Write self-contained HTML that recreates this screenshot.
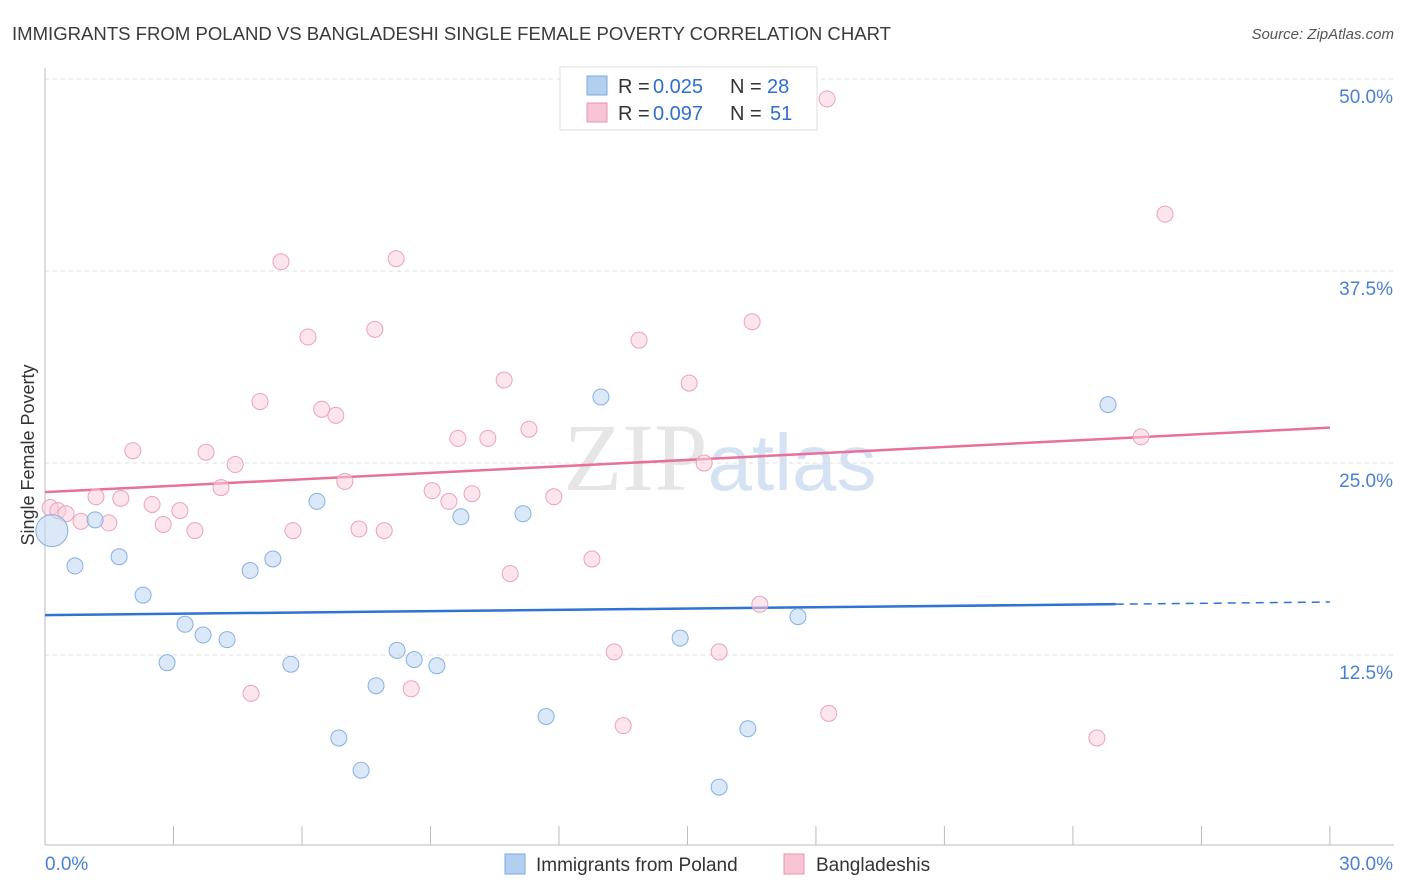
<!DOCTYPE html>
<html><head><meta charset="utf-8"><style>
body{margin:0;background:#fff;font-family:"Liberation Sans",sans-serif;}
svg{display:block}
</style></head><body>
<svg id="chart" width="1406" height="892">
<text x="12" y="40" font-size="18" fill="#3a3a3a" textLength="879" lengthAdjust="spacingAndGlyphs">IMMIGRANTS FROM POLAND VS BANGLADESHI SINGLE FEMALE POVERTY CORRELATION CHART</text>
<text x="1394" y="39" font-size="15" fill="#555" font-style="italic" text-anchor="end">Source: ZipAtlas.com</text>
<text x="720" y="490" font-size="96" fill="#e6e6e6" text-anchor="middle" font-family="Liberation Serif,serif">ZIP<tspan fill="#d5e2f4" font-family="Liberation Sans,sans-serif" font-size="80">atlas</tspan></text>
<text transform="translate(34,455) rotate(-90)" font-size="18" fill="#333" text-anchor="middle">Single Female Poverty</text>
<g id="grid"></g><g id="axes"></g><g id="lines"></g><g id="pts"></g>
<g>
<rect x="560" y="67" width="257" height="63" fill="#fff" stroke="#ddd"/>
<rect x="587" y="76" width="20" height="19" fill="#b3cff0" stroke="#7aaae0"/>
<rect x="587" y="103" width="20" height="19" fill="#f7c4d4" stroke="#e995b0"/>
<text x="618" y="93" font-size="20" fill="#333">R = <tspan x="653" fill="#2f6fd0">0.025</tspan><tspan x="730">N = </tspan><tspan x="767" fill="#2f6fd0">28</tspan></text>
<text x="618" y="120" font-size="20" fill="#333">R = <tspan x="653" fill="#2f6fd0">0.097</tspan><tspan x="730">N = </tspan><tspan x="770" fill="#2f6fd0">51</tspan></text>
</g>
<g>
<rect x="505" y="854" width="20" height="20" fill="#b3cff0" stroke="#7aaae0"/>
<text x="536" y="871" font-size="19" fill="#333">Immigrants from Poland</text>
<rect x="784" y="854" width="20" height="20" fill="#f7c4d4" stroke="#e995b0"/>
<text x="816" y="871" font-size="19" fill="#333">Bangladeshis</text>
</g>
</svg>
<script>
const yTicks=[12.5,25,37.5,50];
const yTickLabels=["12.5%","25.0%","37.5%","50.0%"];
const xTicks=[0,3,6,9,12,15,18,21,24,27,30];
const polandX=[0.16,0.70,1.17,1.73,2.29,2.85,3.27,3.69,4.25,4.79,5.32,5.74,6.35,6.86,7.38,7.73,8.22,8.62,9.15,9.71,11.16,11.70,12.98,14.83,16.41,15.74,17.58,24.82];
const polandY=[20.6,18.3,21.3,18.9,16.4,12.0,14.5,13.8,13.5,18.0,18.75,11.9,22.5,7.1,5.0,10.5,12.8,12.2,11.8,21.5,21.7,8.5,29.3,13.6,7.7,3.9,15.0,28.8];
const bangX=[0.12,0.30,0.49,0.84,1.19,1.49,1.77,2.05,2.50,2.76,3.15,3.50,3.76,4.11,4.44,4.81,5.02,5.51,5.79,6.14,6.46,6.79,7.00,7.33,7.70,7.92,8.20,8.55,9.04,9.43,9.64,9.97,10.34,10.72,10.86,11.30,11.88,12.77,13.29,13.50,13.87,15.04,15.39,15.74,16.51,16.69,18.26,18.30,24.56,25.59,26.15];
const bangY=[22.1,21.9,21.7,21.2,22.8,21.1,22.7,25.8,22.3,21.0,21.9,20.6,25.7,23.4,24.9,10.0,29.0,38.1,20.6,33.2,28.5,28.1,23.8,20.7,33.7,20.6,38.3,10.3,23.2,22.5,26.6,23.0,26.6,30.4,17.8,27.2,22.8,18.75,12.7,7.9,33.0,30.2,25.0,12.7,34.2,15.8,48.7,8.7,7.1,26.7,41.2];
const polandTrend=[15.1,15.95];
const bangTrend=[23.1,27.3];
const NS="http://www.w3.org/2000/svg";
const X=v=>45+v*42.83, Y=v=>847-v*15.36;
function mk(tag,attrs,parent){const e=document.createElementNS(NS,tag);for(const k in attrs)e.setAttribute(k,attrs[k]);document.getElementById(parent).appendChild(e);return e;}
yTicks.forEach((t,i)=>{
 const l=mk('line',{x1:45,x2:1394,y1:Y(t),y2:Y(t),stroke:'#ddd','stroke-dasharray':'4,4'},'grid');
 
 
 const tx=mk('text',{x:1393,y:Y(t)+24,'font-size':19,fill:'#4a7fd6','text-anchor':'end'},'grid');
 tx.textContent=yTickLabels[i];
 
 
});
const ax=mk('line',{x1:45,x2:1394,y1:845,y2:845,stroke:'#bbb'},'axes');


const ay=mk('line',{x1:45,x2:45,y1:68,y2:845,stroke:'#bbb'},'axes');


xTicks.forEach(t=>{if(t===0)return;const l=mk('line',{x1:X(t),x2:X(t),y1:826,y2:845,stroke:'#bbb'},'axes');
 
 });
const x0=mk('text',{x:45,y:870,'font-size':19,fill:'#4a7fd6'},'axes');x0.textContent='0.0%';


const x1=mk('text',{x:1393,y:870,'font-size':19,fill:'#4a7fd6','text-anchor':'end'},'axes');x1.textContent='30.0%';


bangX.forEach((v,i)=>{const c=mk('circle',{cx:X(v),cy:Y(bangY[i]),r:8,fill:'#f9cfdc','fill-opacity':0.55,stroke:'#eba3ba'},'pts');
 
 });
polandX.forEach((v,i)=>{const c=mk('circle',{cx:X(v),cy:Y(polandY[i]),r:i===0?16:8,fill:'#c2d8f3','fill-opacity':0.6,stroke:'#86b1e3'},'pts');
 
 });
const py=x=>polandTrend[0]+(polandTrend[1]-polandTrend[0])*x/30;
const t1=mk('line',{x1:X(0),y1:Y(py(0)),x2:X(25),y2:Y(py(25)),stroke:'#2f73d4','stroke-width':2.5},'lines');


const t2=mk('line',{x1:X(25),y1:Y(py(25)),x2:X(30),y2:Y(py(30)),stroke:'#2f73d4','stroke-width':1.5,'stroke-dasharray':'8,6'},'lines');


const t3=mk('line',{x1:X(0),y1:Y(bangTrend[0]),x2:X(30),y2:Y(bangTrend[1]),stroke:'#e8709a','stroke-width':2.5},'lines');


</script>
</body></html>
